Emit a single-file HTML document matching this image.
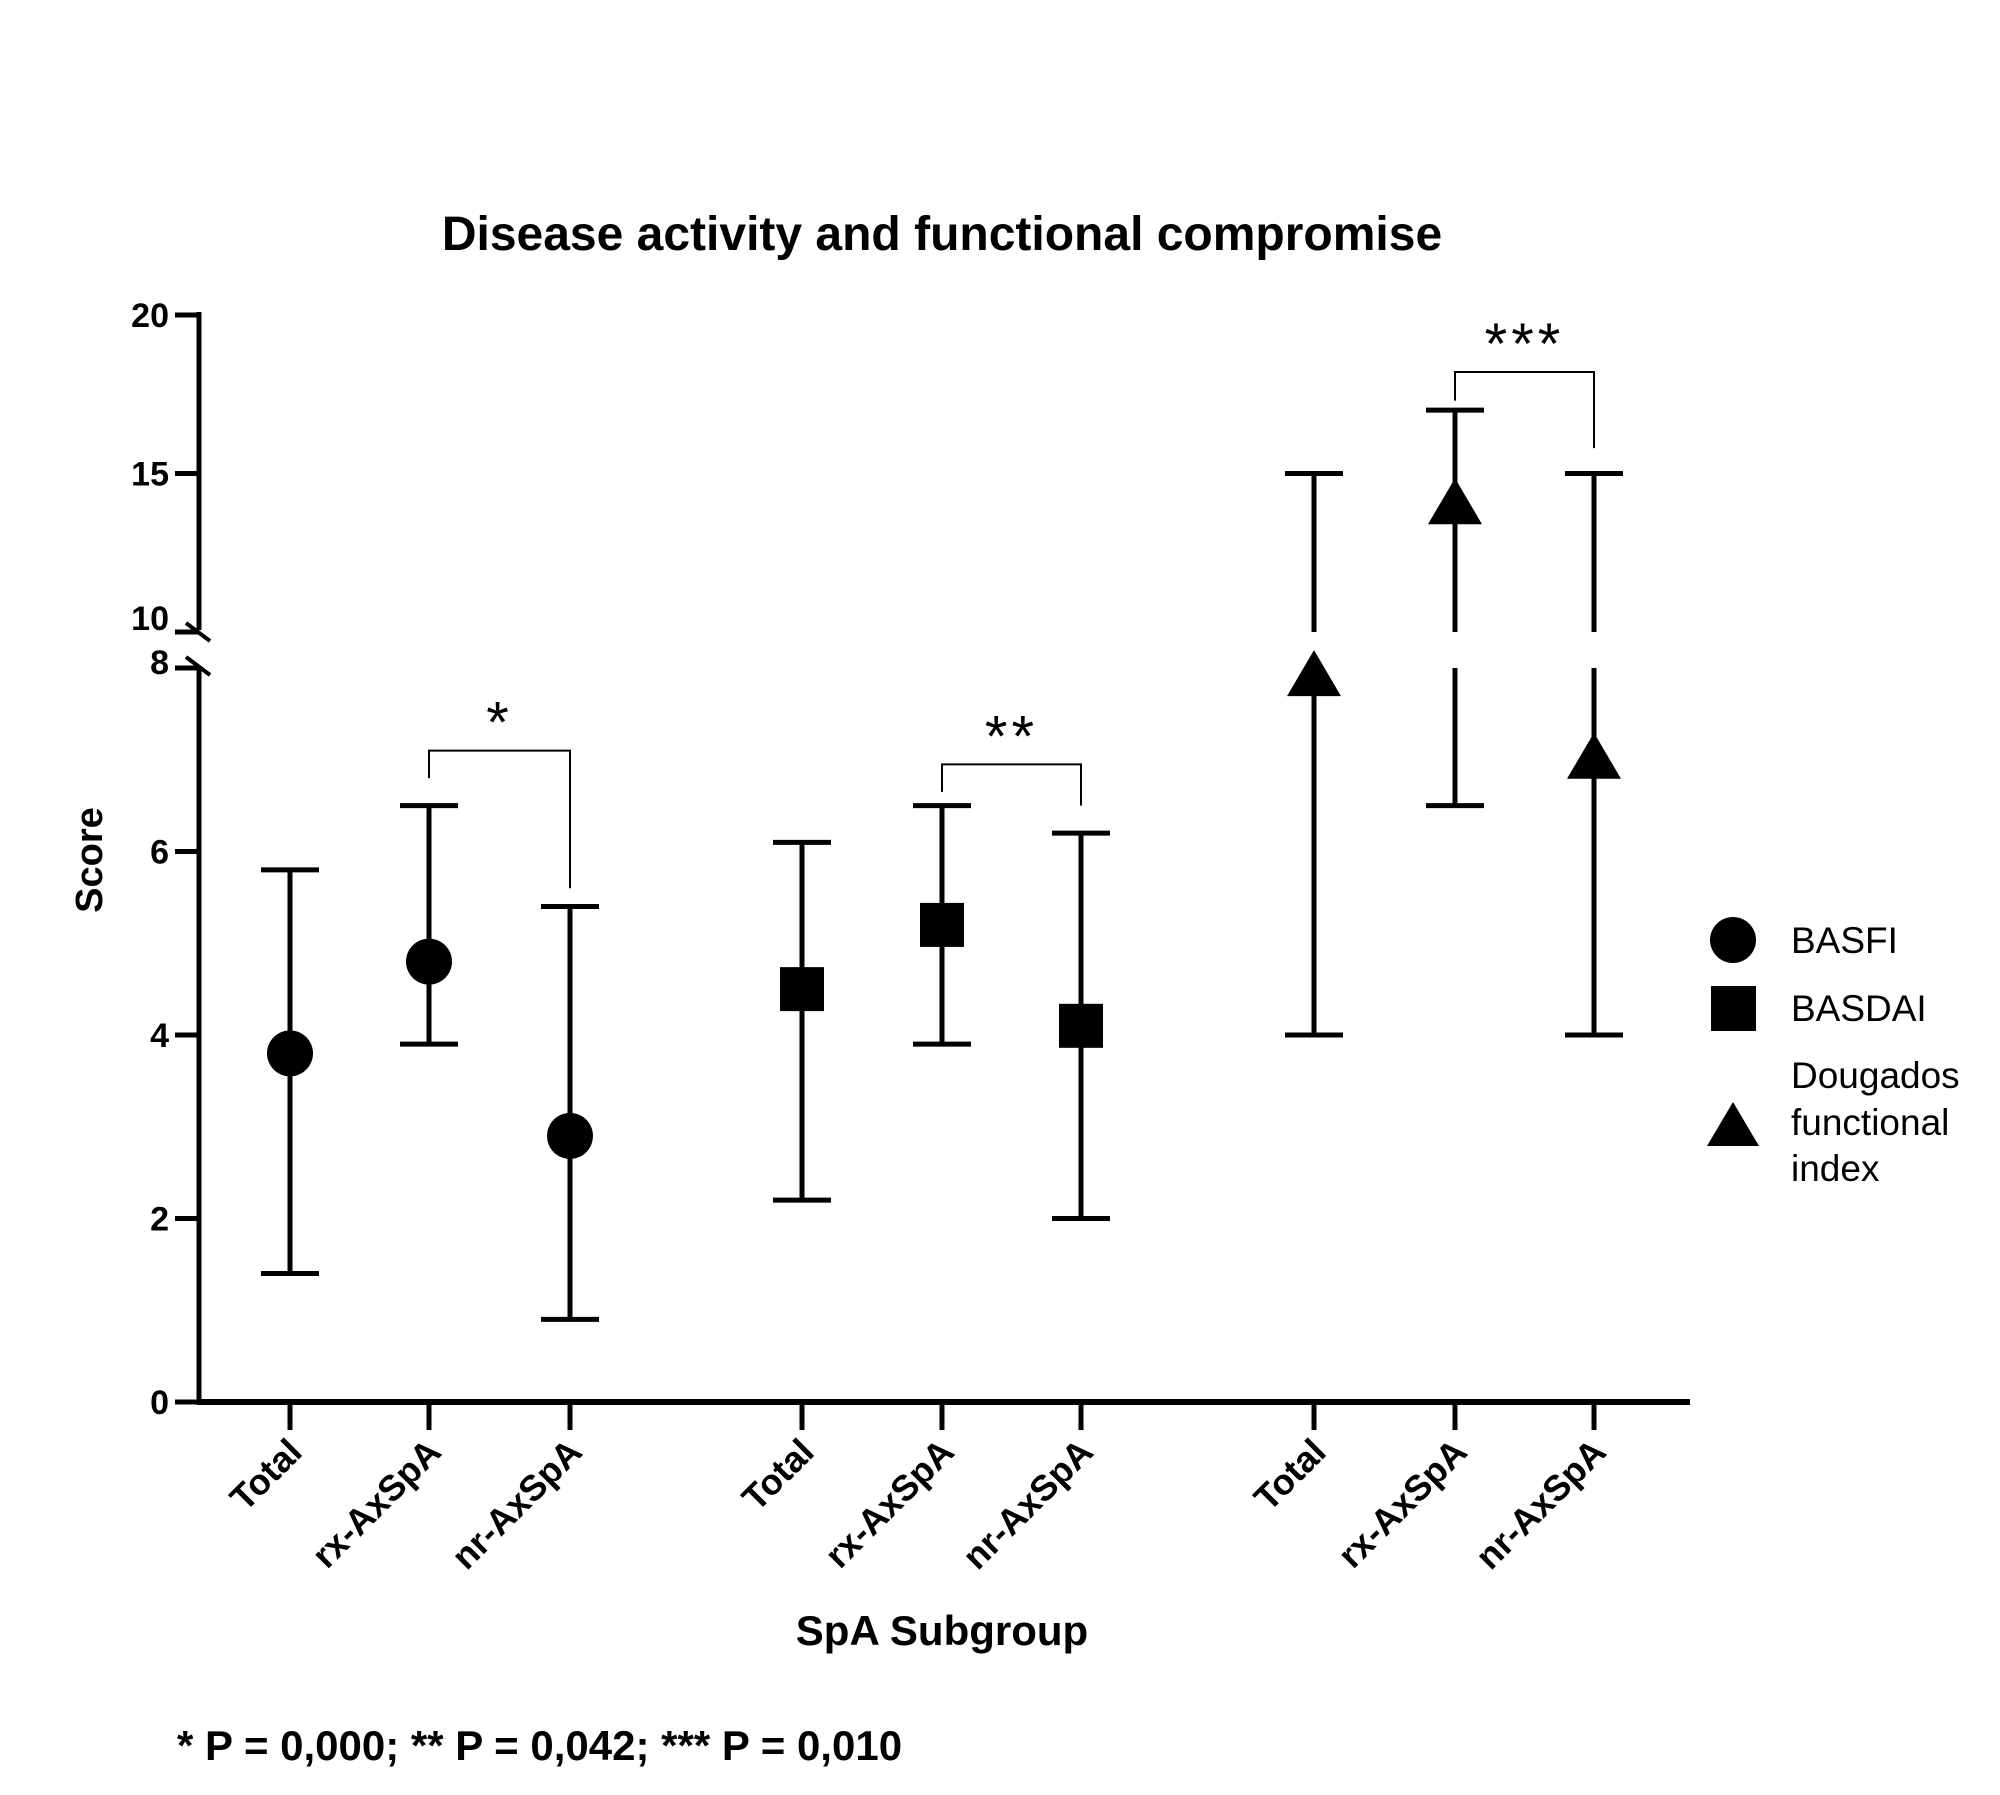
<!DOCTYPE html>
<html><head><meta charset="utf-8">
<style>
html,body{margin:0;padding:0;background:#fff;}
svg{display:block;font-family:"Liberation Sans",Arial,sans-serif;}
</style></head>
<body>
<svg id="chart" width="2000" height="1795" viewBox="0 0 2000 1795" xmlns="http://www.w3.org/2000/svg">
<rect width="2000" height="1795" fill="#fff"/>
<text x="942" y="250" font-size="48" font-weight="bold" text-anchor="middle">Disease activity and functional compromise</text>
<text transform="translate(102,860) rotate(-90)" font-size="38" font-weight="bold" text-anchor="middle">Score</text>
<text x="942" y="1645" font-size="42" font-weight="bold" text-anchor="middle">SpA  Subgroup</text>
<text x="177" y="1760" font-size="42" font-weight="bold">* P = 0,000; ** P = 0,042; *** P = 0,010</text>
<g id="plot"></g>
<g id="legend">
  <circle cx="1733" cy="940" r="23"/>
  <text x="1791" y="953" font-size="37">BASFI</text>
  <rect x="1711" y="986" width="45" height="45"/>
  <text x="1791" y="1021" font-size="37">BASDAI</text>
  <polygon points="1733,1102 1759,1146 1707,1146"/>
  <text x="1791" y="1088" font-size="37">Dougados</text>
  <text x="1791" y="1135" font-size="37">functional</text>
  <text x="1791" y="1181" font-size="37">index</text>
</g>
</svg>
<script>
const categories = ["Total","rx-AxSpA","nr-AxSpA","Total","rx-AxSpA","nr-AxSpA","Total","rx-AxSpA","nr-AxSpA"];
const seriesNames = ["BASFI","BASFI","BASFI","BASDAI","BASDAI","BASDAI","Dougados","Dougados","Dougados"];
const means = [3.8,4.8,2.9,4.5,5.2,4.1,7.9,14,7];
const lows = [1.4,3.9,0.9,2.2,3.9,2.0,4,6.5,4];
const highs = [5.8,6.5,5.4,6.1,6.5,6.2,15,17,15];
const yTicksLow = [0,2,4,6,8];
const yTicksHigh = [10,15,20];
const brackets = [{a:1,b:2,y:7.1,la:6.8,lb:5.6,label:"*"},{a:4,b:5,y:6.95,la:6.65,lb:6.5,label:"**"},{a:7,b:8,y:18.2,la:17.3,lb:15.8,label:"***"}];

const NS="http://www.w3.org/2000/svg";
const g=document.getElementById('plot');
const axX=199, axEnd=1690;
const slots=[290,429,570,802,942,1081,1314,1455,1594];
function xPos(i){return slots[i];}
function yPos(v){
  if(v<=9) return 1402-(1402-668)*v/8;
  return 632-(632-315)*(v-10)/10;
}
function el(tag,attrs){const e=document.createElementNS(NS,tag);for(const k in attrs)e.setAttribute(k,attrs[k]);g.appendChild(e);return e;}
let e=el('line',{x1:axX,y1:yPos(20)-3,x2:axX,y2:630,stroke:'#000','stroke-width':5});


e=el('line',{x1:axX,y1:668,x2:axX,y2:1404,stroke:'#000','stroke-width':5});


e=el('path',{d:'M186,623 L210,641 M186,657 L210,675',stroke:'#000','stroke-width':4,fill:'none'});


e=el('line',{x1:axX-2,y1:1402,x2:axEnd,y2:1402,stroke:'#000','stroke-width':6});


yTicksLow.concat(yTicksHigh).forEach(v=>{
  const y=yPos(v);
  let t=el('line',{x1:axX-24,y1:y,x2:axX,y2:y,stroke:'#000','stroke-width':5});
  
  
  let dy = v===10? -2 : (v===8? 6 : 12);
  let tx=el('text',{x:axX-30,y:y+dy,'font-size':34,'font-weight':'bold','text-anchor':'end'});
  tx.textContent=v;
  
  
});
categories.forEach((c,i)=>{
  const x=xPos(i);
  let t=el('line',{x1:x,y1:1402,x2:x,y2:1430,stroke:'#000','stroke-width':5});
  
  
  let tx=el('text',{transform:`translate(${x+14},${1454}) rotate(-45)`,'font-size':36,'font-weight':'bold','text-anchor':'end'});
  tx.textContent=c;
  
  
});
function vseg(x,v1,v2){
  const lo=Math.min(v1,v2),hi=Math.max(v1,v2);
  if(lo<9 && hi>9){
    let a=el('line',{x1:x,y1:yPos(lo),x2:x,y2:668,stroke:'#000','stroke-width':5});
    
    
    let b=el('line',{x1:x,y1:632,x2:x,y2:yPos(hi),stroke:'#000','stroke-width':5});
    
    
  } else {
    let a=el('line',{x1:x,y1:yPos(lo),x2:x,y2:yPos(hi),stroke:'#000','stroke-width':5});
    
    
  }
}
categories.forEach((c,i)=>{
  const x=xPos(i);
  vseg(x,lows[i],highs[i]);
  [lows[i],highs[i]].forEach(v=>{
    let cap=el('line',{x1:x-29,y1:yPos(v),x2:x+29,y2:yPos(v),stroke:'#000','stroke-width':5});
    
    
  });
  const y=yPos(means[i]);
  let m;
  if(seriesNames[i]==='BASFI'){m=el('circle',{cx:x,cy:y,r:23});}
  else if(seriesNames[i]==='BASDAI'){m=el('rect',{x:x-22,y:y-22,width:44,height:44});}
  else {m=el('polygon',{points:`${x},${y-27} ${x+27},${y+19} ${x-27},${y+19}`});}
  
  
});
brackets.forEach(b=>{
  const xa=xPos(b.a), xb=xPos(b.b), y=yPos(b.y);
  let p=el('path',{d:`M${xa},${yPos(b.la)} L${xa},${y} L${xb},${y} L${xb},${yPos(b.lb)}`,stroke:'#000','stroke-width':2,fill:'none'});
  
  
  let t=el('text',{x:(xa+xb)/2,y:y-8,'font-size':58,'text-anchor':'middle','letter-spacing':'4'});
  t.textContent=b.label;
  
  
});
</script>
</body></html>
